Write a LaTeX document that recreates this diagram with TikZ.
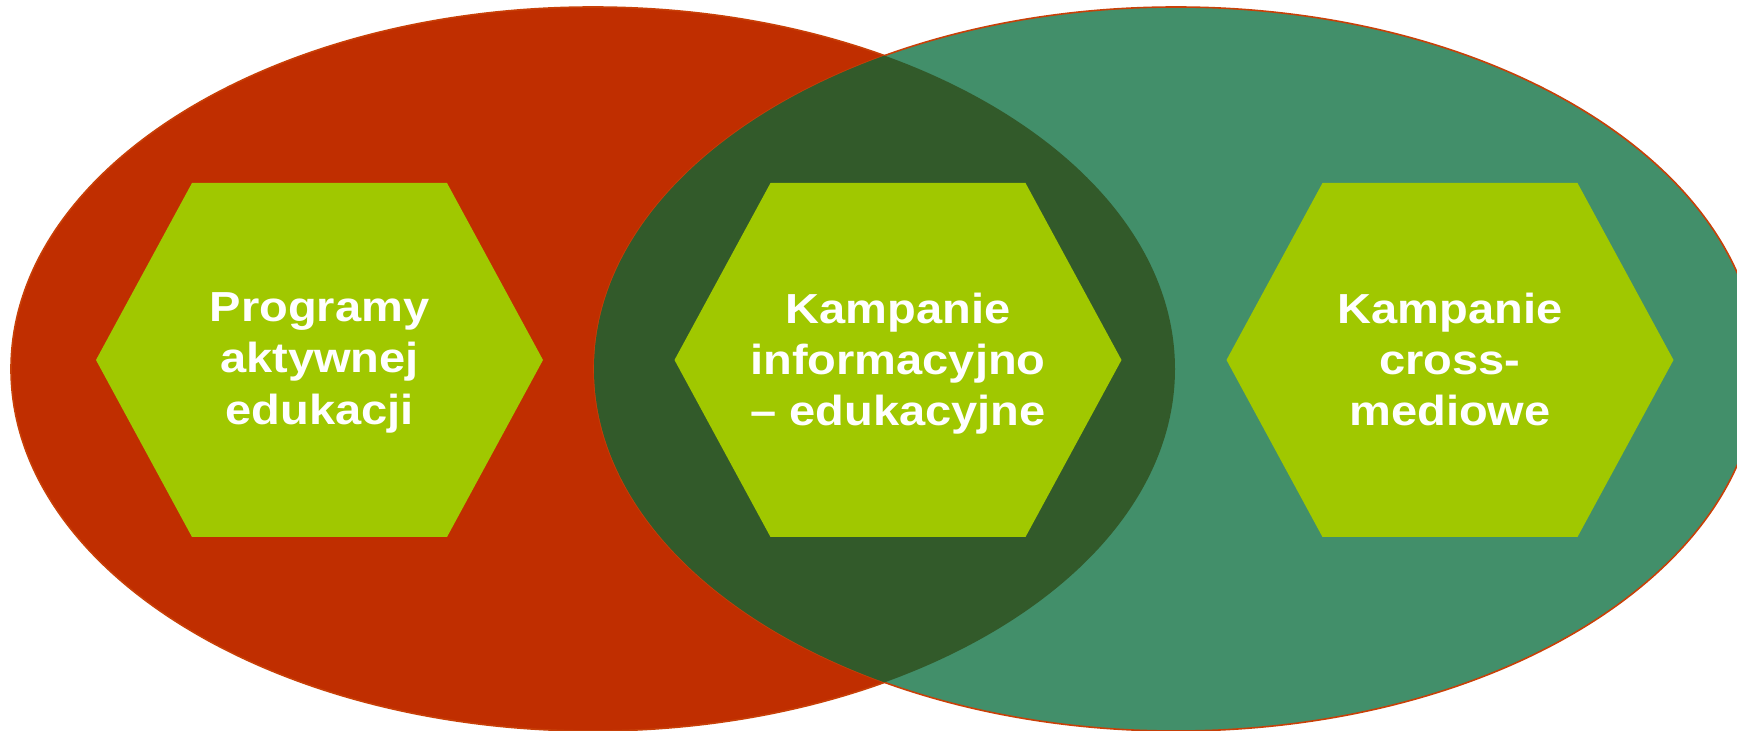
\documentclass[tikz,border=0pt]{standalone}
\usepackage{fontspec}
\setmainfont{Liberation Sans}
\usetikzlibrary{positioning}

\definecolor{ovalred}{RGB}{192,46,0}
\definecolor{ovalline}{RGB}{200,64,8}
\definecolor{ovalteal}{RGB}{66,143,106}
\definecolor{ovaldark}{RGB}{50,90,42}
\definecolor{hexgreen}{RGB}{160,200,0}

\tikzset{
  hexfill/.style={fill=hexgreen},
  hextext/.style={text=white, align=center, inner sep=0pt, anchor=north,
    xscale=1.12, font=\fontsize{21pt}{25.6pt}\selectfont\bfseries}
}

\begin{document}
\begin{tikzpicture}[x=0.5pt,y=-0.5pt]
      \useasboundingbox (0,0) rectangle (1737,731);

      % the two ovals
      \coordinate (L) at (593,369);
      \coordinate (R) at (1176,369);
      \fill[ovalred, draw=ovalline, line width=0.8pt] (L) ellipse [x radius=291pt, y radius=181pt];
      \fill[ovalteal, draw=ovalline, line width=0.8pt] (R) ellipse [x radius=291pt, y radius=181pt];
      \begin{scope}
        \clip (L) ellipse [x radius=291pt, y radius=181pt];
        \fill[ovaldark] (R) ellipse [x radius=291pt, y radius=181pt];
      \end{scope}

      % hexagons
      \foreach \cx in {319.5,898,1450}
        \fill[hexfill] (\cx-223.5,360) -- (\cx-127.5,183) -- (\cx+127.5,183)
          -- (\cx+223.5,360) -- (\cx+127.5,537) -- (\cx-127.5,537) -- cycle;

      \node[hextext] (prog)  at (319.5,292.5) {Programy\\aktywnej\\edukacji};
      \node[hextext] (info)  at (898,292.5)   {Kampanie\\informacyjno\\– edukacyjne};
      \node[hextext] (cross) at (1450,292.5)  {Kampanie\\cross-\\mediowe};

\end{tikzpicture}
\end{document}
